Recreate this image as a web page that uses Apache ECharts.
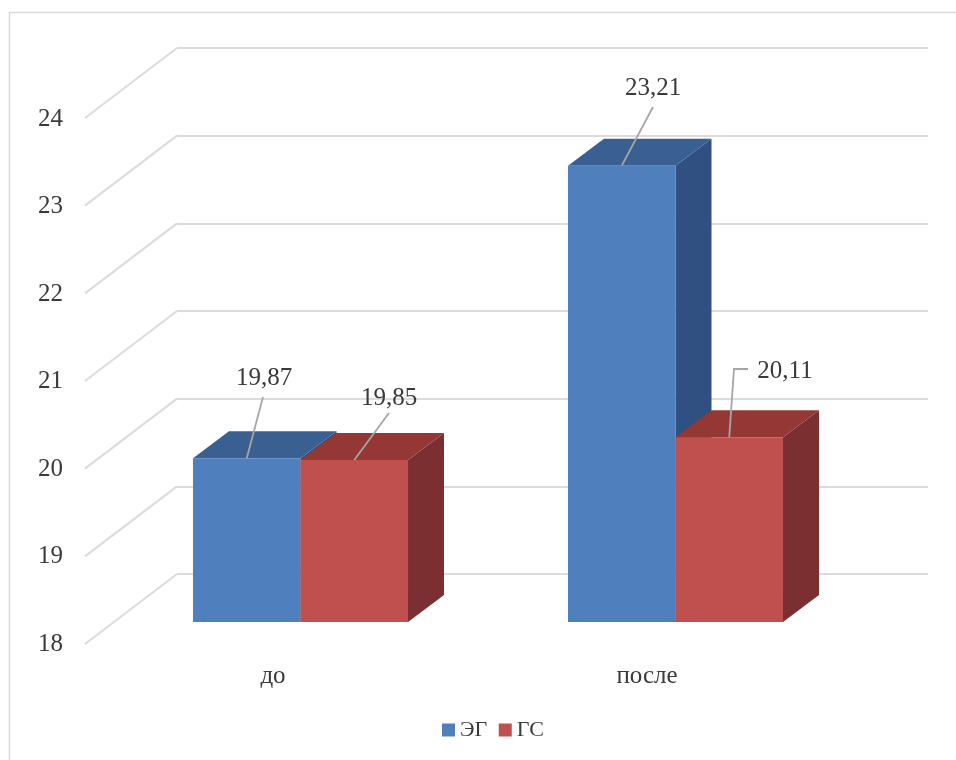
<!DOCTYPE html>
<html><head><meta charset="utf-8">
<style>html,body{margin:0;padding:0;background:#fff}#c{width:956px;height:760px}</style>
<script src="https://cdn.jsdelivr.net/npm/echarts@6/dist/echarts.min.js"></script>
</head><body><div id="c"></div>
<script>
const categories = ['до', 'после'];
const egValues = [19.87, 23.21];
const gsValues = [19.85, 20.11];
const yTicks = [18, 19, 20, 21, 22, 23, 24];
const seriesNames = ['ЭГ', 'ГС'];

const FONT = '"Liberation Serif", serif';
const TEXT = '#3a3a3a';
const depthX = 36, depthY = 27;
const wallDX = 92, wallDY = 70;
const palette = [
  {front: '#4f80bd', top: '#3a6092', side: '#2f5080'},
  {front: '#c0504d', top: '#943735', side: '#7b2f30'}
];
const leaders = [
  [{to: [263, 397], label: [264, 378]}, {to: [653, 107], label: [653, 88]}],
  [{to: [389, 413], label: [389, 398]}, {to: [734, 369], elbow: [748, 369], label: [785, 371]}]
];

function barRender(sIdx) {
  return function (params, api) {
    const cat = api.value(0), val = api.value(1);
    const w = api.size([1, 0])[0] * 0.2867;
    const c = api.coord([cat, val]);
    const base = api.coord([cat, 18]);
    const x = sIdx === 0 ? c[0] - w : c[0];
    const yT = c[1], yB = base[1];
    const p = palette[sIdx];
    const poly = (pts, fill) => ({type: 'polygon', shape: {points: pts}, style: {fill: fill}});
    return {type: 'group', children: [
      poly([[x + w, yT], [x + w + depthX, yT - depthY], [x + w + depthX, yB - depthY], [x + w, yB]], p.side),
      poly([[x, yT], [x + depthX, yT - depthY], [x + w + depthX, yT - depthY], [x + w, yT]], p.top),
      poly([[x, yT], [x + w, yT], [x + w, yB], [x, yB]], p.front)
    ]};
  };
}

function labelRender(sIdx) {
  return function (params, api) {
    const cat = api.value(0), val = api.value(1);
    const w = api.size([1, 0])[0] * 0.2867;
    const c = api.coord([cat, val]);
    const x = sIdx === 0 ? c[0] - w : c[0];
    const ld = leaders[sIdx][cat];
    const pts = [[x + w * 0.5, c[1]], ld.to];
    if (ld.elbow) pts.push(ld.elbow);
    return {type: 'group', children: [
      {type: 'polyline', shape: {points: pts}, style: {stroke: '#a6a6a6', lineWidth: 1.8, fill: null}},
      {type: 'text', style: {x: ld.label[0], y: ld.label[1], text: val.toFixed(2).replace('.', ','),
        font: '25px ' + FONT, fill: TEXT, align: 'center', verticalAlign: 'middle'}}
    ]};
  };
}

const chart = echarts.init(document.getElementById('c'), null, {renderer: 'canvas'});
chart.setOption({
  animation: false,
  backgroundColor: '#fff',
  graphic: [{type: 'polyline', z: -10, silent: true,
    shape: {points: [[9.5, 760], [9.5, 12.5], [956, 12.5]]},
    style: {stroke: '#d9d9d9', lineWidth: 1.5, fill: null}}],
  legend: {
    left: 437, top: 714, itemWidth: 13, itemHeight: 13, itemGap: 11.5, icon: 'rect',
    data: seriesNames,
    textStyle: {fontFamily: FONT, fontSize: 22, color: TEXT}
  },
  grid: [
    {left: 86, width: 748, top: 119, height: 525},
    {left: 113, width: 750, top: 96.5, height: 525.5},
    {left: 177, width: 751, top: 48, height: 526}
  ],
  xAxis: [
    {type: 'category', gridIndex: 0, data: categories, axisLine: {show: false}, axisTick: {show: false},
     axisLabel: {margin: 20, fontFamily: FONT, fontSize: 25, color: TEXT}},
    {type: 'category', gridIndex: 1, data: categories, show: false},
    {type: 'value', gridIndex: 2, min: 0, max: 1, show: false}
  ],
  yAxis: [
    {type: 'value', gridIndex: 0, min: yTicks[0], max: yTicks[yTicks.length - 1], interval: 1,
     axisLine: {show: false}, axisTick: {show: false}, splitLine: {show: false},
     axisLabel: {margin: 23, fontFamily: FONT, fontSize: 25, color: TEXT}},
    {type: 'value', gridIndex: 1, min: 18, max: 24, interval: 1, show: false},
    {type: 'value', gridIndex: 2, min: 18, max: 24, interval: 1,
     axisLine: {show: false}, axisTick: {show: false}, axisLabel: {show: false},
     splitLine: {show: true, lineStyle: {color: '#dcdcdc', width: 2}}}
  ],
  series: [
    {type: 'custom', name: 'walls', xAxisIndex: 2, yAxisIndex: 2, z: 1, silent: true, clip: false,
     data: yTicks.map(t => [0, t]),
     renderItem: (params, api) => {
       const p = api.coord([0, api.value(1)]);
       return {type: 'polyline', shape: {points: [[p[0], p[1]], [p[0] - wallDX, p[1] + wallDY]]},
         style: {stroke: '#dcdcdc', lineWidth: 2, fill: null}};
     }},
    {type: 'custom', name: seriesNames[0], xAxisIndex: 1, yAxisIndex: 1, z: 3, clip: false,
     itemStyle: {color: palette[0].front},
     data: egValues.map((v, i) => [i, v]), renderItem: barRender(0)},
    {type: 'custom', name: seriesNames[1], xAxisIndex: 1, yAxisIndex: 1, z: 4, clip: false,
     itemStyle: {color: palette[1].front},
     data: gsValues.map((v, i) => [i, v]), renderItem: barRender(1)},
    {type: 'custom', name: 'labels-eg', xAxisIndex: 1, yAxisIndex: 1, z: 5, clip: false,
     data: egValues.map((v, i) => [i, v]), renderItem: labelRender(0)},
    {type: 'custom', name: 'labels-gs', xAxisIndex: 1, yAxisIndex: 1, z: 5, clip: false,
     data: gsValues.map((v, i) => [i, v]), renderItem: labelRender(1)}
  ]
});
</script></body></html>
